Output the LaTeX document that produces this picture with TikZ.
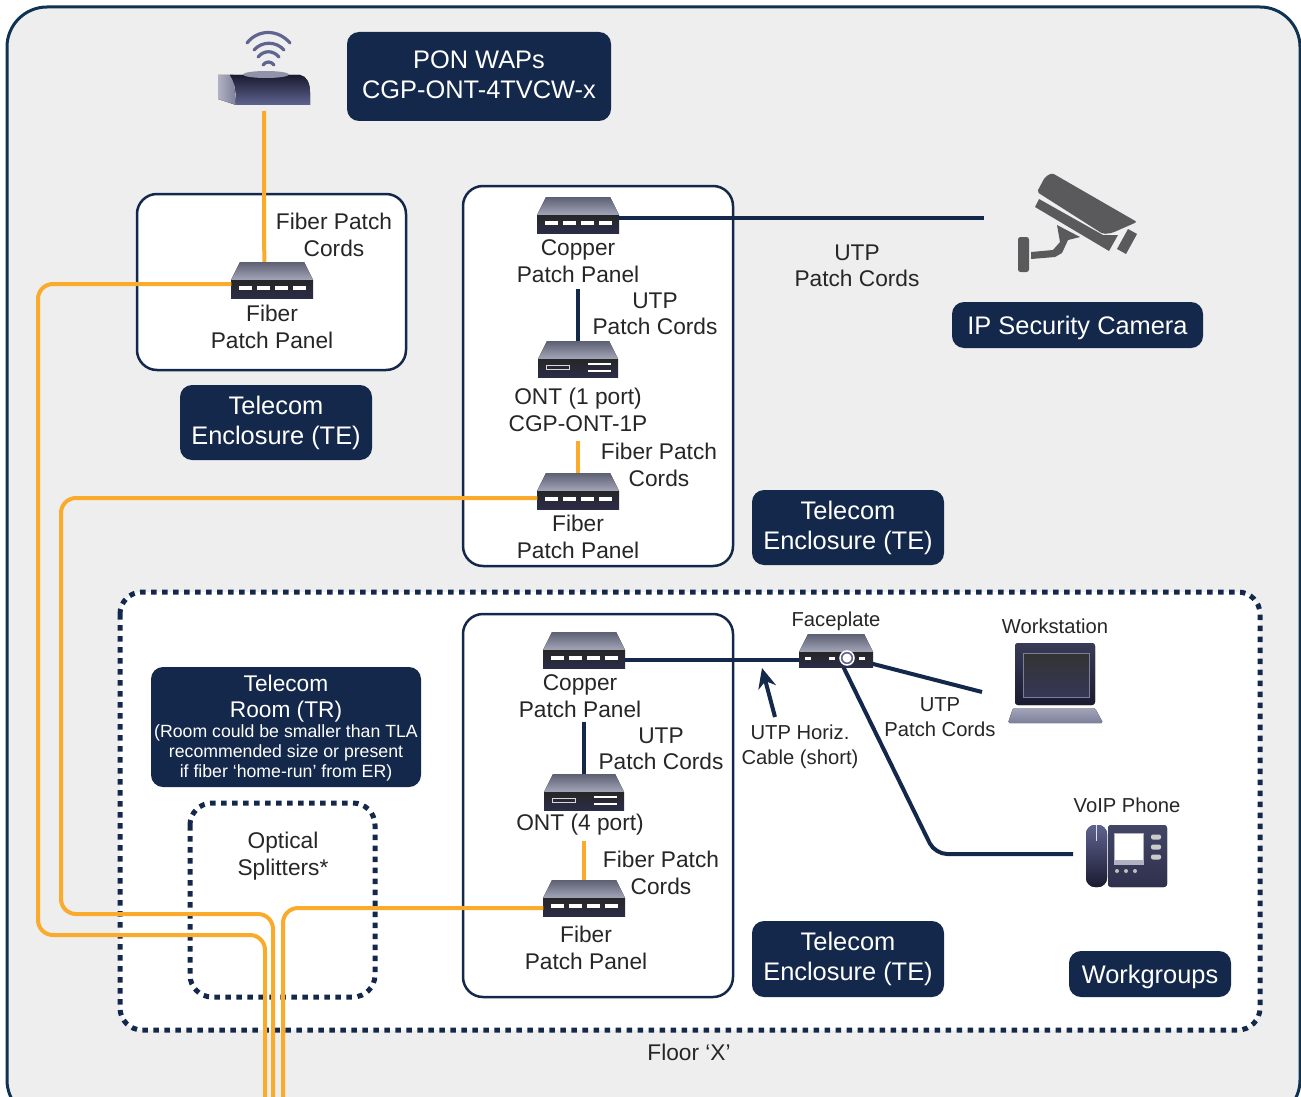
\documentclass[tikz,border=0pt]{standalone}
\usepackage{fontspec}
\setmainfont{Liberation Sans}
\usetikzlibrary{calc,arrows.meta,positioning}
\definecolor{navy}{HTML}{14284B}
\definecolor{edgeblue}{HTML}{0F3352}
\definecolor{fiber}{HTML}{FBAB2C}
\definecolor{panelbg}{HTML}{EEEEEE}
\definecolor{devdark}{HTML}{1A1A30}
\definecolor{devmid}{HTML}{5F6490}
\definecolor{devtop}{HTML}{7C7F9A}
\definecolor{camgray}{HTML}{5A5A5C}
\newcommand{\trnote}{\fontsize{17.7}{20}\selectfont}
\tikzset{
    x=1pt, y=-1pt,
    room/.style={draw=navy, line width=2.5pt, fill=white, rounded corners=20pt},
    dotbox/.style={draw=navy, line width=5pt, fill=white, rounded corners=22pt, dash pattern=on 5.5pt off 5.5pt},
    tag/.style={fill=navy, text=white, rounded corners=12pt, align=center, font=\fontsize{25.4}{30}\selectfont, inner sep=0pt},
    lowertext/.style={execute at begin node={\rule{0pt}{25pt}}},
    raisetext/.style={execute at end node={\rule[-4pt]{0pt}{4pt}}},
    lbl/.style={align=center, text=black!85, font=\fontsize{22.7}{26.5}\selectfont, inner sep=0pt},
    small/.style={align=center, text=black!85, font=\fontsize{20.2}{25}\selectfont, inner sep=0pt},
    fibercord/.style={draw=fiber, line width=4pt, rounded corners=15pt},
    utpcord/.style={draw=navy, line width=4pt},
    devbox/.style={inner sep=0pt, minimum width=#1, minimum height=36pt},
    panelface/.style={top color=devtop!75!black, bottom color=devtop!70!white},
    frontface/.style={top color=black!85, bottom color=devdark!75!devmid},
    patchpanel/.pic={
        \node[devbox=81pt] (-box) at (0,0) {};
        \fill[panelface] (-32,-18) -- (32,-18) -- (41,0) -- (-41,0) -- cycle;
        \fill[frontface] (-41,0) rectangle (41,18);
        \foreach \i in {-27,-9,9,27}
            \fill[white] (\i-6.5,6) rectangle (\i+6.5,10);
    },
    ontbox/.pic={
        \node[devbox=79pt] (-box) at (0,0) {};
        \fill[panelface] (-31,-18) -- (31,-18) -- (40,0) -- (-40,0) -- cycle;
        \fill[frontface] (-40,0) rectangle (40,18);
        \draw[white!85!black, line width=1pt] (-32,6) rectangle (-9,10);
        \foreach \i in {5,12}
            \fill[white] (10,\i-1) rectangle (33,\i+1);
    },
}
\begin{document}
\begin{tikzpicture}
\useasboundingbox (0,0) rectangle (1301,1097);

% backdrop and rooms
\draw[draw=edgeblue, line width=3pt, fill=panelbg, rounded corners=40pt] (7,7) rectangle (1300,1120);
\node[lbl] (floor) at (689,1052) {Floor ‘X’};
\draw[dotbox] (120,592) rectangle (1260,1030);
\draw[dotbox] (190,803) rectangle (375,997);
\foreach \a/\b/\c/\d in {137/194/406/370, 463/186/733/566, 463/614/733/997}
    \draw[room] (\a,\b) rectangle (\c,\d);

% free ends of the cords
\coordinate (feedA) at (265,1097);
\coordinate (feedB) at (273,1097);
\coordinate (feedC) at (283,1097);
\coordinate (wapout) at (264,111);
\coordinate (camin) at (984,218);
\coordinate (copAout) at (578,289);
\coordinate (ontAout) at (578,441);
\coordinate (copBout) at (584,722);
\coordinate (ontBout) at (584,841);
\coordinate (wsin) at (982,692);
\coordinate (phonein) at (1073,854);
\coordinate (bend) at (935,854);
\coordinate (arrowtail) at (775,717);
\coordinate (arrowhead) at (762,668);

% panels
\pic (fibA) at (272,280) {patchpanel};
\pic (copA) at (578,215) {patchpanel};
\pic (ontA) at (578,359) {ontbox};
\pic (fibB) at (578,491) {patchpanel};
\pic (copB) at (584,650) {patchpanel};
\pic (ontB) at (584,792) {ontbox};
\pic (fibC) at (584,898) {patchpanel};
\node[inner sep=0pt, minimum width=74pt, minimum height=33pt] (face) at (836,650.5) {};

% cords
\draw[fibercord] (wapout) -- ($(fibA-box.north west)!0.405!(fibA-box.north east)$);
\draw[fibercord] ($(fibA-box.west)+(0,4)$) -| (38,935) -| (feedA);
\draw[fibercord] ($(fibB-box.west)+(0,7)$) -| (61,914) -| (feedB);
\draw[fibercord] ($(fibC-box.west)+(0,10)$) -| (feedC);
\draw[fibercord] (ontAout) -- (fibB-box.north);
\draw[fibercord] (ontBout) -- (fibC-box.north);
\draw[utpcord] ($(copA-box.east)+(0,3)$) -- (camin);
\draw[utpcord] (copAout) -- (ontA-box.north);
\draw[utpcord] (copBout) -- (ontB-box.north);
\draw[utpcord] ($(copB-box.east)+(0,10)$) -- ($(face.west)+(0,9.5)$);
\draw[utpcord] ($(face.south east)+(-3,-4)$) -- (wsin);
\draw[utpcord, rounded corners=12pt] ($(face.south)+(7,-1)$) -- (bend) -- (phonein);
\draw[draw=navy, line width=4pt, -{Stealth[length=20pt,width=18pt]}] (arrowtail) -- (arrowhead);

% faceplate
\fill[panelface] (808,634) -- (864,634) -- (873,652) -- (799,652) -- cycle;
\fill[frontface] (799,652) rectangle (873,667);
\foreach \i in {808,832,862}
    \fill[white] (\i-3,657) rectangle (\i+3,660);
\draw[white, line width=1.5pt, fill=devmid] (847,658) circle (7);
\fill[white] (847,658) circle (4.5);

% wireless access point
\fill[left color=devtop!60!white, right color=devtop] (218,75) -- (233,75) -- (236,105) -- (218,99) -- cycle;
\fill[top color=devdark, bottom color=devmid] (230,75) -- (300,75) .. controls (307,76) and (310,84) .. (310,92) -- (310,105) -- (236,105) .. controls (236,92) and (236,84) .. (230,75) -- cycle;
\fill[devtop!85!white] (266,74.5) ellipse (23 and 3.5);
\draw[devmid, line width=3.2pt, line cap=round] (247,43) .. controls (258,29) and (278,29) .. (290,43);
\draw[devmid, line width=3.2pt, line cap=round] (254,50) .. controls (262,41) and (276,41) .. (284,50);
\draw[devmid, line width=3.2pt, line cap=round] (258,57) .. controls (264,50) and (273,50) .. (279,57);
\draw[devmid, line width=3.2pt, line cap=round] (263,65) .. controls (266,61) and (271,61) .. (274,65);

% camera
\fill[camgray, rounded corners=2pt] (1037,192) -- (1045,177) -- (1052,173) -- (1137,222) -- (1112,233) -- (1103,234) -- cycle;
\fill[camgray] (1039,199) -- (1103,235) -- (1118,235) -- (1109,251) -- (1035,207) -- cycle;
\fill[camgray] (1128,229) -- (1137,234) -- (1126,254) -- (1117,249) -- cycle;
\fill[camgray] (1057,225) -- (1080,237) -- (1068,240) -- (1062,253) -- (1055,257) -- (1031,259) -- (1031,252) -- (1053,250) -- (1060,242) -- cycle;
\fill[camgray, rounded corners=2.5pt] (1018,237) rectangle (1029,272);

% laptop
\fill[top color=devmid!60!black, bottom color=devdark, rounded corners=3pt] (1015,643) rectangle (1095,705);
\fill[top color=black!80, bottom color=devdark!60!devmid] (1023,653) rectangle (1089,697);
\draw[devtop, line width=1pt] (1023,653) rectangle (1089,697);
\fill[top color=devtop!70!white, bottom color=devtop, rounded corners=1.5pt] (1013,708) -- (1095,708) -- (1103,723) -- (1008,723) -- cycle;

% phone
\fill[top color=devmid, bottom color=devdark, rounded corners=9pt] (1086,825) rectangle (1107,887);
\draw[white!80!devmid, line width=1.2pt] (1096.5,825) -- (1096.5,841);
\fill[top color=devmid!70!black, bottom color=devdark!70!devmid, rounded corners=3pt] (1108,825) rectangle (1167,887);
\fill[devtop!60!white] (1114,833) rectangle (1144,865);
\fill[white] (1115,834) rectangle (1143,860);
\foreach \i in {837,847,857}
    \fill[white!80!black, rounded corners=2pt] (1151,\i-2.5) rectangle (1161,\i+2.5);
\foreach \i in {1117,1126,1135}
    \fill[white!75!black] (\i,871) circle (2);

% tags
\node[tag, raisetext, minimum width=264pt, minimum height=89pt] (wapTag) at (479,76.5) {PON WAPs\\CGP-ONT-4TVCW-x};
\node[tag, lowertext, minimum width=251pt, minimum height=46pt] (camTag) at (1077.5,325) {IP Security Camera};
\node[tag, lowertext, minimum width=192pt, minimum height=75pt] (teA) at (276,422.5) {Telecom\\Enclosure (TE)};
\node[tag, lowertext, minimum width=192pt, minimum height=75pt] (teB) at (848,527.5) {Telecom\\Enclosure (TE)};
\node[tag, lowertext, minimum width=192pt, minimum height=76pt] (teC) at (848,959) {Telecom\\Enclosure (TE)};
\node[tag, lowertext, minimum width=162pt, minimum height=46pt] (wgTag) at (1150,974) {Workgroups};
\node[tag, minimum width=270pt, minimum height=120pt, font=\fontsize{22.7}{26.5}\selectfont] (trTag) at (286,727)
    {\rule{0pt}{20.5pt}Telecom\\Room (TR)\\[0pt]\trnote\begin{tabular}{@{}c@{}}(Room could be smaller than TLA\\recommended size or present\\if fiber ‘home-run’ from ER)\end{tabular}};

% labels
\node[lbl] (lfibA) at (334,235) {Fiber Patch\\Cords};
\node[lbl] (pfibA) at (272,327) {Fiber\\Patch Panel};
\node[lbl] (pcopA) at (578,261) {Copper\\Patch Panel};
\node[lbl] (lcopA) at (655,314) {UTP\\Patch Cords};
\node[lbl] (lcam) at (857,266) {UTP\\Patch Cords};
\node[lbl] (pontA) at (578,410) {ONT (1 port)\\CGP-ONT-1P};
\node[lbl] (lfibB) at (659,465) {Fiber Patch\\Cords};
\node[lbl] (pfibB) at (578,537) {Fiber\\Patch Panel};
\node[lbl] (pcopB) at (580,696) {Copper\\Patch Panel};
\node[lbl] (lcopB) at (661,749) {UTP\\Patch Cords};
\node[lbl] (pontB) at (580,825) {ONT (4 port)};
\node[lbl] (lfibC) at (661,873) {Fiber Patch\\Cords};
\node[lbl] (pfibC) at (586,948) {Fiber\\Patch Panel};
\node[lbl] (split) at (283,856) {Optical\\Splitters*};
\node[small] (lface) at (836,621) {Faceplate};
\node[small] (lws) at (1055,626) {Workstation};
\node[small] (lvoip) at (1127,805) {VoIP Phone};
\node[small] (lutp) at (940,717) {UTP\\Patch Cords};
\node[small] (lhoriz) at (800,747) {UTP Horiz.\\Cable (short)};
\end{tikzpicture}
\end{document}
